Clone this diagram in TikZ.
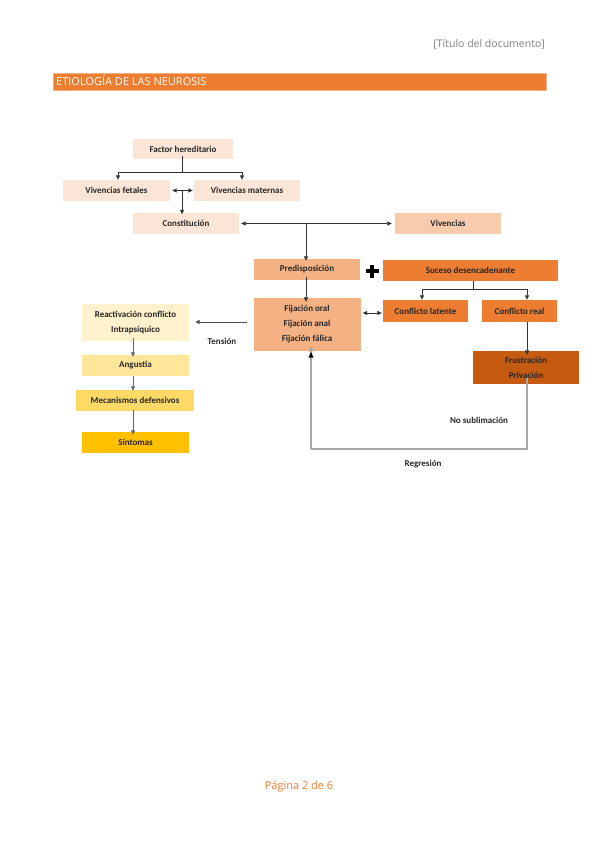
\documentclass[tikz,border=0pt]{standalone}
\usepackage{fontspec}
\setmainfont{Carlito}
\newfontfamily\headfont{Open Sans}
\usetikzlibrary{arrows.meta}
\definecolor{pA}{HTML}{FBE5D6}
\definecolor{pB}{HTML}{F8CBAD}
\definecolor{pC}{HTML}{F4B183}
\definecolor{pD}{HTML}{ED7D31}
\definecolor{pE}{HTML}{C55A11}
\definecolor{yA}{HTML}{FFF2CC}
\definecolor{yB}{HTML}{FFE699}
\definecolor{yC}{HTML}{FFD966}
\definecolor{yD}{HTML}{FFC000}
\definecolor{hdgray}{HTML}{7F7F7F}
\definecolor{lngray}{HTML}{A6A6A6}
\tikzset{
  box/.style={rectangle, inner sep=0pt, align=center, font=\bfseries\fontsize{9}{10}\selectfont, text=black!85},
  arr/.style={-{Triangle[length=4.5pt,width=4pt]}, line width=0.7pt, draw=black!80},
  arrb/.style={{Triangle[length=4.5pt,width=4pt]}-{Triangle[length=4.5pt,width=4pt]}, line width=0.7pt, draw=black!80},
  ln/.style={line width=0.7pt, draw=black!80},
  gln/.style={line width=1.2pt, draw=lngray},
  lbl/.style={font=\bfseries\fontsize{9}{10}\selectfont, text=black!85, inner sep=0pt}
}
\begin{document}
\begin{tikzpicture}[x=1pt,y=-1pt]
\useasboundingbox (0,0) rectangle (599,848);
% header
\node[anchor=east, font=\headfont\fontsize{10.5}{12}\selectfont, text=hdgray, inner sep=0pt] (hdr) at (545,44) {[Título del documento]};
\node[rectangle, fill=pD, draw=pC, line width=0.5pt, minimum width=493, minimum height=17, inner sep=0pt, anchor=west] (bar) at (53,81.5) {};
\node[anchor=west, font=\headfont\fontsize{11}{12}\selectfont, text=white, inner sep=0pt] (bartxt) at (56,80.5) {ETIOLOGÍA DE LAS NEUROSIS};
% boxes
\node[box, fill=pA, minimum width=100, minimum height=20] (fh) at (183,149) {Factor hereditario};
\node[box, fill=pA, minimum width=107, minimum height=21] (vf) at (116.5,190.5) {Vivencias fetales};
\node[box, fill=pA, minimum width=106, minimum height=21] (vm) at (247,190.5) {Vivencias maternas};
\node[box, fill=pA, minimum width=106, minimum height=21] (con) at (186,223.5) {Constitución};
\node[box, fill=pB, minimum width=106, minimum height=21] (viv) at (448,223.5) {Vivencias};
\node[box, fill=pC, minimum width=106, minimum height=21] (pre) at (307,269.5) {Predisposición};
\node[box, fill=pD, minimum width=175, minimum height=21] (suc) at (470.5,270.5) {Suceso desencadenante};
\node[box, fill=pC, minimum width=107, minimum height=53, font=\bfseries\fontsize{9}{15}\selectfont] (fij) at (307,324.5) {Fijación oral\\Fijación anal\\Fijación fálica};
\node[box, fill=pD, minimum width=85, minimum height=22] (cl) at (425.5,311) {Conflicto latente};
\node[box, fill=pD, minimum width=75, minimum height=22] (cr) at (519.5,311) {Conflicto real};
\node[box, fill=pE, minimum width=106, minimum height=33, font=\bfseries\fontsize{9}{15}\selectfont] (fr) at (526,367.5) {Frustración\\Privación};
\node[box, fill=yA, minimum width=107, minimum height=37, font=\bfseries\fontsize{9}{15}\selectfont] (re) at (135.5,322.5) {Reactivación conflicto\\Intrapsíquico};
\node[box, fill=yB, minimum width=107, minimum height=21] (an) at (135.5,365.5) {Angustia};
\node[box, fill=yC, minimum width=118, minimum height=21] (me) at (135,400.5) {Mecanismos defensivos};
\node[box, fill=yD, minimum width=107, minimum height=21] (si) at (135.5,442.5) {Síntomas};
% plus sign
\coordinate (plus) at (372,271);
\draw[line width=3.8pt, black] ([xshift=-6.5pt]plus) -- ([xshift=6.5pt]plus);
\draw[line width=3.8pt, black] ([yshift=-6.5pt]plus) -- ([yshift=6.5pt]plus);
% connectors: top
\coordinate (j1) at (182,172);
\draw[ln] ([yshift=3pt]fh.south -| j1) -- (j1);
\draw[ln] (118,172) coordinate (j1l) -- (242,172) coordinate (j1r);
\draw[arr] (j1l) -- (j1l |- vf.north);
\draw[arr] (j1r) -- (j1r |- vm.north);
\draw[arrb] ([xshift=2pt]vf.east) -- ([xshift=-1pt]vm.west);
\coordinate (j2) at (182,190.5);
\draw[arr] (j2) -- ([yshift=-1.5pt]j2 |- con.north);
\draw[arrb] ([xshift=2pt]con.east) -- ([xshift=-3pt]viv.west);
\coordinate (j3) at (306,223.5);
\draw[arr] (j3) -- ([yshift=-2pt]j3 |- pre.north);
\draw[arr] ([yshift=3pt]pre.south -| j3) -- ([yshift=-4pt]j3 |- fij.north);
% suceso split
\coordinate (j4) at (473,289);
\draw[ln] (suc.south -| j4) -- (j4);
\draw[ln] (422,289) coordinate (j4l) -- (527,289) coordinate (j4r);
\draw[arr] (j4l) -- (j4l |- cl.north);
\draw[arr] (j4r) -- (j4r |- cr.north);
\draw[arrb] ([xshift=2pt]fij.east |- 0,313) -- ([xshift=-1pt]cl.west |- 0,313);
\draw[arr] (cr.south -| j4r) -- ([yshift=-4pt]j4r |- fr.north);
% regression loop
\coordinate (l1) at (527,449);
\coordinate (l2) at (311,449);
\draw[gln] ([yshift=6pt]fr.south -| l1) -- (l1) -- (l2);
\draw[gln, -{Triangle[length=5pt,width=4.5pt]}, draw=lngray] (l2) -- ([yshift=5pt]l2 |- fij.south);
\fill[black] (311,352) -- (308.5,357.5) -- (313.5,357.5) -- cycle;
% tension
\draw[arr, draw=black!70] ([xshift=-6pt]fij.west |- 0,322) -- ([xshift=6pt]re.east |- 0,322);
% left chain
\coordinate (k) at (133,0);
\draw[arr, draw=black!60] ([yshift=3pt]re.south -| k) -- ([yshift=-2pt]k |- an.north);
\draw[arr, draw=black!60] (an.south -| k) -- ([yshift=-1pt]k |- me.north);
\draw[arr, draw=black!60, line width=1pt] ([yshift=1pt]me.south -| k) -- ([yshift=-3pt]k |- si.north);
% labels
\node[lbl] (ten) at (222,341) {Tensión};
\node[lbl] (nos) at (479,420) {No sublimación};
\node[lbl] (reg) at (423,464) {Regresión};
% footer
\node[font=\headfont\fontsize{11}{12}\selectfont, text=pD, inner sep=0pt] (foot) at (299,787) {Página 2 de 6};
\end{tikzpicture}
\end{document}
